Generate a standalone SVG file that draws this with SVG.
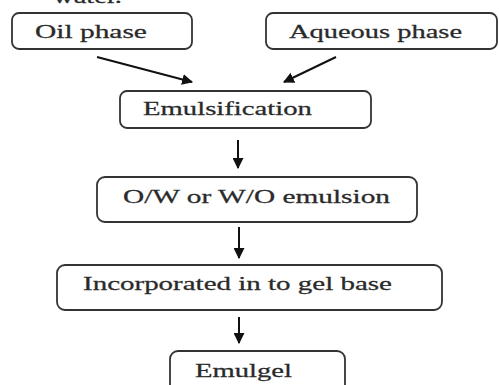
<svg xmlns="http://www.w3.org/2000/svg" width="499" height="385" viewBox="0 0 499 385">
<defs>
<style>
.box{fill:#fff;stroke:#333;stroke-width:1.8}
.t{font-family:"Liberation Serif","Times New Roman",serif;font-size:18px;fill:#2a2a2a;stroke:#2a2a2a;stroke-width:0.25}
.c{stroke:#111;stroke-width:2;fill:none}
</style>
<marker id="ah" viewBox="0 0 10 10" refX="9" refY="5" markerWidth="5.5" markerHeight="5.5" orient="auto" markerUnits="strokeWidth">
<path d="M0,0 L10,5 L0,10 z" fill="#111"/>
</marker>
</defs>
<rect width="499" height="385" fill="#fff"/>
<text class="t" transform="translate(53 3) scale(1.62 1)" x="0" y="0" textLength="42.6" lengthAdjust="spacingAndGlyphs">water.</text>
<g id="oil">
<rect class="box" x="12" y="13" width="180" height="36" rx="7"/>
<text class="t" transform="translate(35 38) scale(1.62 1)" x="0" y="0" textLength="69.1" lengthAdjust="spacingAndGlyphs">Oil phase</text>
</g>
<g id="aqueous">
<rect class="box" x="266" y="13" width="231" height="36" rx="7"/>
<text class="t" transform="translate(289 38) scale(1.62 1)" x="0" y="0" textLength="106.8" lengthAdjust="spacingAndGlyphs">Aqueous phase</text>
</g>
<g id="emulsification">
<rect class="box" x="120" y="91" width="251" height="37" rx="7"/>
<text class="t" transform="translate(143 115) scale(1.62 1)" x="0" y="0" textLength="104.3" lengthAdjust="spacingAndGlyphs">Emulsification</text>
</g>
<g id="emulsion">
<rect class="box" x="97" y="177" width="320" height="45" rx="8"/>
<text class="t" transform="translate(123 203) scale(1.62 1)" x="0" y="0" textLength="164.8" lengthAdjust="spacingAndGlyphs">O/W or W/O emulsion</text>
</g>
<g id="gel">
<rect class="box" x="57" y="265" width="385" height="45" rx="8"/>
<text class="t" transform="translate(83 290) scale(1.62 1)" x="0" y="0" textLength="190.7" lengthAdjust="spacingAndGlyphs">Incorporated in to gel base</text>
</g>
<g id="emulgel">
<rect class="box" x="170" y="351" width="175" height="45" rx="8"/>
<text class="t" transform="translate(195 377) scale(1.62 1)" x="0" y="0" textLength="59.9" lengthAdjust="spacingAndGlyphs">Emulgel</text>
</g>
<g id="connectors">
<line class="c" x1="97" y1="57" x2="192" y2="82" marker-end="url(#ah)"/>
<line class="c" x1="336" y1="57" x2="284" y2="82" marker-end="url(#ah)"/>
<line class="c" x1="238" y1="140" x2="238" y2="168" marker-end="url(#ah)"/>
<line class="c" x1="239" y1="227" x2="239" y2="258" marker-end="url(#ah)"/>
<line class="c" x1="239" y1="317" x2="239" y2="343" marker-end="url(#ah)"/>
</g>
</svg>
